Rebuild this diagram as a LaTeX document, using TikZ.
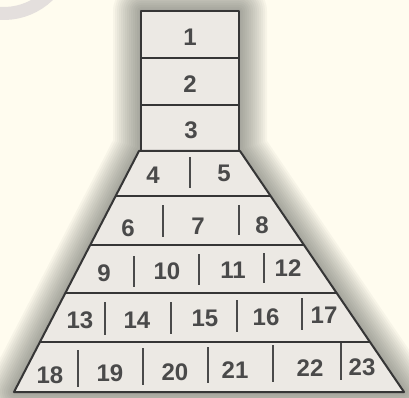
\documentclass[tikz,border=0pt]{standalone}
\usepackage{fontspec}
\setmainfont{Liberation Sans}
\usetikzlibrary{calc}
\definecolor{bg}{HTML}{FFFCEF}
\definecolor{cellfill}{HTML}{ECE9E4}
\definecolor{edge}{HTML}{363636}
\definecolor{txt}{HTML}{4A4A4A}
\definecolor{arcgray}{HTML}{E4DFDD}
\tikzset{
  lbl/.style={inner sep=0pt, text=txt, font=\bfseries\fontsize{24}{24}\selectfont},
  edgeline/.style={draw=edge, line width=2pt, line join=round},
  divider/.style={draw=edge!90!white, line width=2pt},
}
\begin{document}
\begin{tikzpicture}[x=1pt,y=-1pt]
\fill[bg] (0,0) rectangle (409,398);
\useasboundingbox (0,0) rectangle (409,398);
% faint arc top-left
\draw[arcgray, line width=13pt] (3.7,-50.5) ++(30:64) arc[start angle=30, end angle=115, radius=64];
% corners
\coordinate (RTL) at (141,11);
\coordinate (RTR) at (239,11);
\coordinate (TL) at (139,151);
\coordinate (TR) at (240,151);
\coordinate (BL) at (14,392);
\coordinate (BR) at (404,392);
% glow
\foreach \w in {56,52,...,4}{
  \draw[black!70, opacity=0.042, line width=\w pt, line join=round]
    (RTL) -- (RTR) -- (239,151) -- (TR) -- (BR) -- (BL) -- (TL) -- (141,151) -- cycle;
}
% fill
\fill[cellfill] (RTL) -- (RTR) -- (239,151) -- (TR) -- (BR) -- (BL) -- (TL) -- (141,151) -- cycle;
% top rectangle
\draw[edgeline] (RTL) rectangle (239,151);
\draw[edgeline] (141,58) -- (239,58);
\draw[edgeline] (141,105) -- (239,105);
% trapezoid
\draw[edgeline] (TL) -- (TR) -- (BR) -- (BL) -- cycle;
\foreach \f in {0.187,0.390,0.589,0.793}{
  \draw[edgeline] ($(TL)!\f!(BL)$) -- ($(TR)!\f!(BR)$);
}
% dividers
\foreach \x/\a/\b in {190/157/188,
  163/205/237, 239/205/235,
  134/256/287, 199/254/285, 264/253/283,
  105/302/335, 171/302/334, 237/300/332, 302/298/330,
  78/350/387, 143/348/385, 208/347/383, 273/345/382, 341/343/380}{
  \draw[divider] (\x,\a) -- (\x,\b);
}
% labels
\foreach \n/\x/\y in {1/190/37, 2/190/84, 3/191/130,
  4/153/175, 5/224/173,
  6/128/228, 7/198/226, 8/262/225,
  9/104/273, 10/167/271, 11/233/270, 12/288/268,
  13/80/320, 14/137/320, 15/205/318, 16/266/317, 17/324/315,
  18/50/375, 19/110/373, 20/175/372, 21/235/370, 22/310/368, 23/362/367}{
  \node[lbl] (n\n) at (\x,\y) {\n};
}
\end{tikzpicture}
\end{document}
